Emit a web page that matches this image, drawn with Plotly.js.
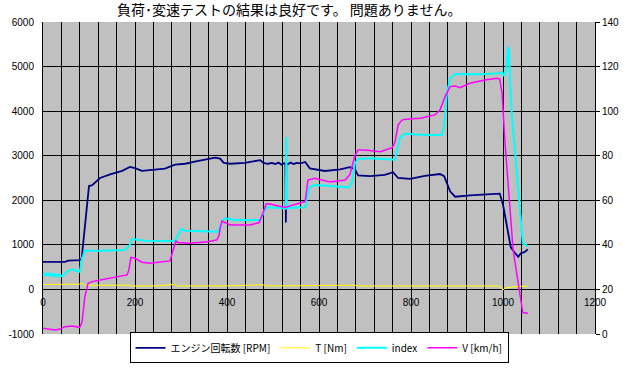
<!DOCTYPE html>
<html>
<head>
<meta charset="utf-8">
<script src="https://cdn.plot.ly/plotly-3.0.1.min.js"></script>
<style>
html,body{margin:0;padding:0;background:#fff;}
#chart{width:640px;height:369px;}
</style>
</head>
<body>
<div id="chart"></div>
<script>
// ---- data ----
const chartTitle = "負荷･変速テストの結果は良好です。 問題ありません。";
const seriesNames = ["エンジン回転数 [RPM]", "T [Nm]", "index", "V [km/h]"];

// engine speed [RPM] (left axis)
const rpmX = [0, 20, 48, 55, 70, 80, 84, 100, 107, 115, 124, 146, 172, 189, 200, 215, 233, 265, 287, 309, 330, 363, 374, 385, 393, 407, 439, 472, 478, 483, 490, 497, 505, 512, 518, 524, 527, 528, 529, 532, 538, 545, 552, 560, 570, 580, 598, 613, 646, 667, 678, 685, 711, 743, 761, 772, 798, 830, 863, 872, 885, 896, 928, 993, 1000, 1011, 1017, 1024, 1033, 1039, 1048, 1054];
const rpmY = [620, 615, 620, 645, 650, 655, 690, 2320, 2340, 2420, 2500, 2580, 2660, 2750, 2720, 2660, 2680, 2710, 2800, 2820, 2870, 2930, 2955, 2935, 2840, 2820, 2840, 2900, 2850, 2830, 2820, 2840, 2815, 2845, 2800, 2830, 2820, 1500, 2830, 2810, 2845, 2815, 2840, 2830, 2860, 2717, 2680, 2657, 2695, 2745, 2700, 2560, 2540, 2570, 2630, 2500, 2480, 2550, 2590, 2540, 2200, 2080, 2110, 2150, 1900, 1300, 945, 846, 734, 810, 846, 900];

// torque T [Nm] (left axis)
const tX = [0, 40, 80, 85, 91, 100, 150, 189, 195, 250, 287, 293, 400, 478, 486, 600, 678, 685, 800, 900, 990, 996, 1000, 1004, 1010, 1022, 1054];
const tY = [110, 115, 118, 140, 100, 95, 90, 95, 75, 80, 115, 78, 80, 105, 78, 80, 95, 78, 80, 80, 78, 40, -15, 25, 40, 60, 76];

// index (left axis)
const idxX = [0, 3, 6, 9, 12, 15, 18, 21, 24, 27, 30, 33, 36, 39, 43, 52, 63, 70, 80, 85, 91, 124, 178, 189, 193, 222, 287, 291, 300, 309, 352, 380, 385, 391, 396, 417, 472, 478, 485, 526, 528, 529, 530, 570, 574, 580, 591, 624, 665, 672, 678, 685, 711, 765, 770, 776, 787, 830, 867, 872, 878, 885, 896, 950, 993, 998, 1002, 1007, 1011, 1013, 1015, 1020, 1026, 1041, 1043, 1054];
const idxY = [360, 300, 380, 320, 350, 290, 370, 310, 340, 300, 360, 290, 330, 300, 308, 397, 457, 420, 397, 697, 870, 868, 884, 996, 1131, 1093, 1086, 1160, 1355, 1317, 1295, 1295, 1407, 1557, 1595, 1557, 1557, 1707, 1842, 1820, 1800, 3420, 1830, 1842, 2080, 2305, 2343, 2320, 2290, 2417, 2830, 2926, 2942, 2910, 3128, 3400, 3495, 3465, 3465, 3650, 4400, 4737, 4834, 4827, 4849, 4871, 4789, 4923, 5440, 5372, 4699, 3801, 3128, 1259, 1034, 974];

// vehicle speed V [km/h] (right axis)
const vX = [0, 26, 37, 48, 63, 80, 85, 91, 98, 107, 124, 167, 183, 187, 191, 200, 215, 233, 276, 283, 289, 293, 320, 357, 378, 383, 385, 389, 407, 450, 470, 478, 485, 493, 526, 570, 576, 591, 624, 657, 667, 678, 685, 700, 733, 759, 765, 772, 780, 789, 820, 852, 863, 874, 885, 896, 907, 928, 961, 987, 993, 998, 1004, 1022, 1041, 1043, 1054];
const vY = [2.6, 1.8, 2.2, 3.3, 3.6, 3.0, 5.5, 16.7, 22.7, 23.5, 24.2, 25.7, 26.5, 29, 34.4, 34, 32.2, 31.7, 32.8, 37.7, 41.7, 41.1, 40.7, 41.4, 42.2, 44.4, 47.4, 50.7, 48.9, 48.9, 50.0, 54.2, 58.3, 58.3, 56.8, 59.5, 69.1, 69.9, 68.2, 69.1, 71.5, 80, 82.6, 82.6, 81.8, 83.6, 86, 93.8, 96, 96.4, 96.8, 98.3, 100.5, 106.5, 111, 111.3, 110.5, 112.5, 114, 114.7, 114.4, 108, 87, 37.7, 10.8, 9.6, 9.3];

// axis ticks
const xTickVals = [0, 200, 400, 600, 800, 1000, 1200];
const xTickText = ["0", "200", "400", "600", "800", "1000", "1200"];
const yLeftTickVals = [-1000, 0, 1000, 2000, 3000, 4000, 5000, 6000];
const yLeftTickText = ["-1000", "0", "1000", "2000", "3000", "4000", "5000", "6000"];
const yRightTickVals = [0, 20, 40, 60, 80, 100, 120, 140];
const yRightTickText = ["0", "20", "40", "60", "80", "100", "120", "140"];

// ---- chart ----
const yMin = -1000, yMax = 6000;
const tickFont = {family: "Liberation Sans, Arial, sans-serif", size: 10, color: "#000"};

const traces = [
  {x: rpmX, y: rpmY, name: seriesNames[0], type: "scatter", mode: "lines",
   line: {color: "#000080", width: 1.8}, yaxis: "y"},
  {x: tX, y: tY, name: seriesNames[1], type: "scatter", mode: "lines",
   line: {color: "#FFFF00", width: 1}, yaxis: "y"},
  {x: idxX, y: idxY, name: seriesNames[2], type: "scatter", mode: "lines",
   line: {color: "#00FFFF", width: 2}, yaxis: "y"},
  {x: vX, y: vY, name: seriesNames[3], type: "scatter", mode: "lines",
   line: {color: "#FF00FF", width: 1.5}, yaxis: "y2"}
];

const layout = {
  width: 640, height: 369,
  margin: {l: 43, r: 45, t: 22, b: 35, pad: 0, autoexpand: false},
  paper_bgcolor: "#FFFFFF",
  plot_bgcolor: "#C0C0C0",
  showlegend: true,
  title: {
    text: chartTitle,
    font: {family: "Noto Sans CJK JP, sans-serif", size: 14, color: "#000"},
    xref: "container", yref: "container",
    x: 0.452, y: 0.972, xanchor: "center", yanchor: "middle"
  },
  xaxis: {
    range: [0, 1200],
    anchor: "free",
    position: (0 - yMin) / (yMax - yMin),
    tickmode: "array", tickvals: xTickVals, ticktext: xTickText,
    ticks: "outside", ticklen: 4, tickcolor: "rgba(0,0,0,0)",
    showgrid: true, gridcolor: "#000000", gridwidth: 1,
    minor: {dtick: 40, tick0: 0, showgrid: true, gridcolor: "#000000", gridwidth: 1, ticks: ""},
    showline: false, zeroline: false,
    tickfont: tickFont
  },
  yaxis: {
    range: [yMin, yMax],
    tickmode: "array", tickvals: yLeftTickVals, ticktext: yLeftTickText,
    ticks: "outside", ticklen: 6, tickcolor: "rgba(0,0,0,0)",
    showgrid: true, gridcolor: "#000000", gridwidth: 1,
    showline: true, linecolor: "#000000", linewidth: 1,
    zeroline: false,
    tickfont: tickFont
  },
  yaxis2: {
    range: [0, 140],
    overlaying: "y", side: "right",
    tickmode: "array", tickvals: yRightTickVals, ticktext: yRightTickText,
    ticks: "outside", ticklen: 4, tickcolor: "#000000",
    showgrid: false, zeroline: false,
    showline: true, linecolor: "#000000", linewidth: 1,
    tickfont: tickFont
  },
  legend: {
    orientation: "h",
    x: 0.5, xanchor: "center",
    y: -0.094, yanchor: "bottom",
    bgcolor: "#FFFFFF",
    bordercolor: "#000000", borderwidth: 1,
    font: {family: "Noto Sans CJK JP, sans-serif", size: 10, color: "#000"},
    itemwidth: 30,
    tracegroupgap: 0
  }
};

Plotly.newPlot("chart", traces, layout, {staticPlot: true, displayModeBar: false});
</script>
</body>
</html>
